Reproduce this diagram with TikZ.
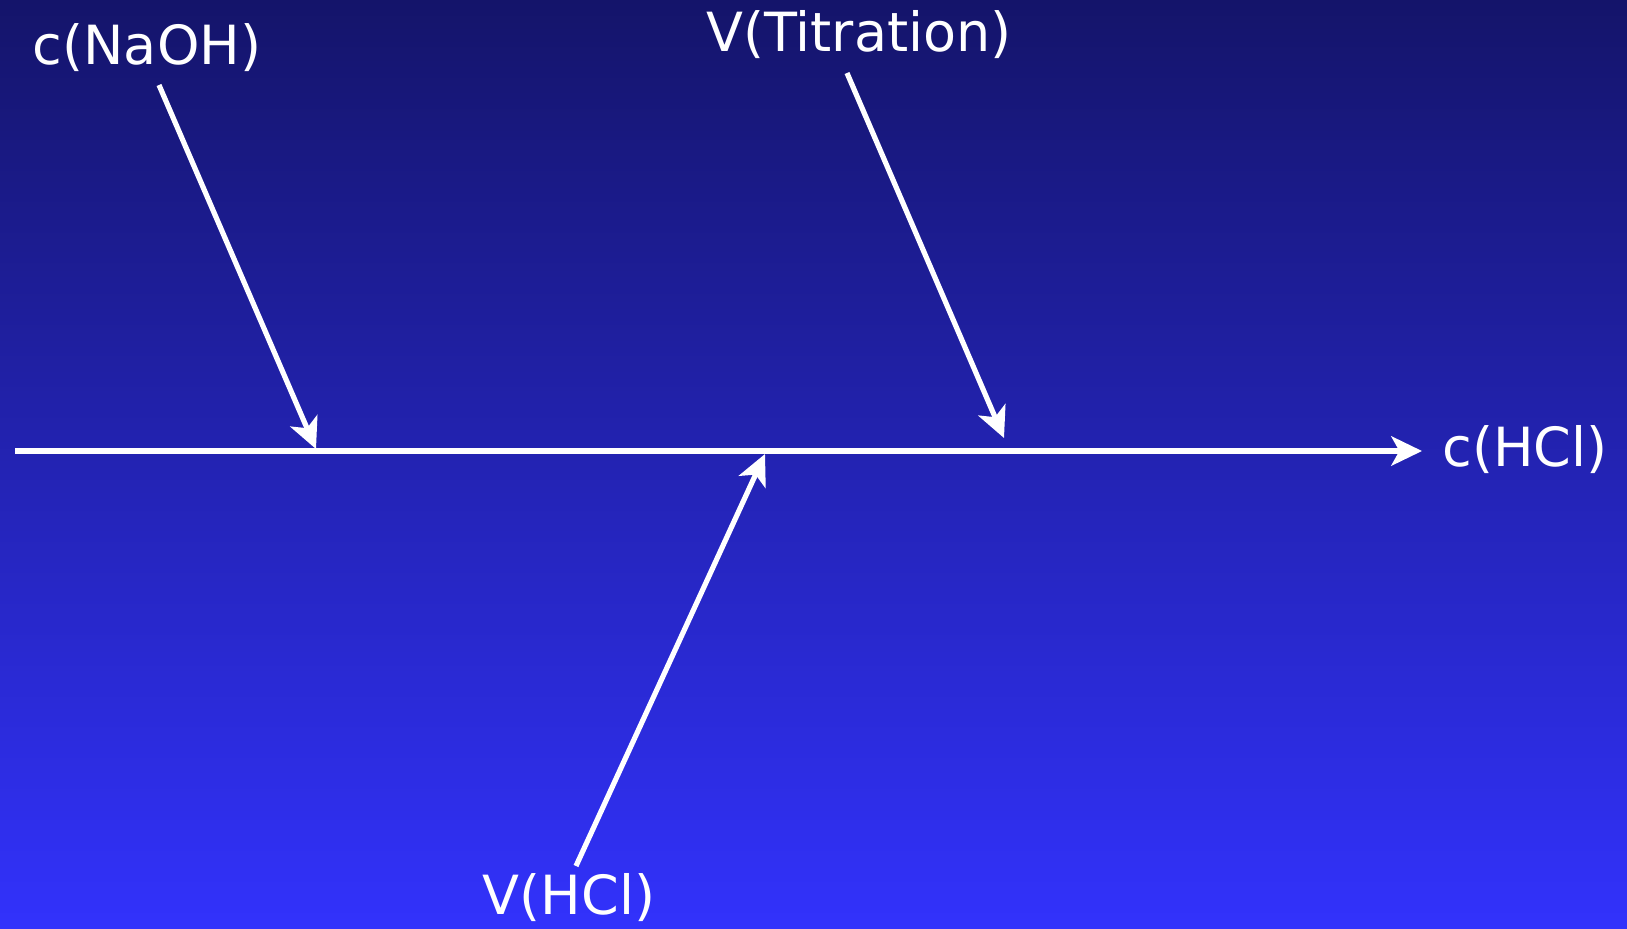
\documentclass[tikz,border=0pt]{standalone}
\usepackage{fontspec}
\setmainfont{DejaVu Sans}
\usetikzlibrary{arrows.meta}
\definecolor{bgtop}{RGB}{20,20,106}
\definecolor{bgbot}{RGB}{50,50,252}

\begin{document}
\begin{tikzpicture}[
                x=0.75pt, y=-0.75pt,
                >={Stealth[length=23pt, width=22pt, inset=6pt]},
                lbl/.style={text=white, font=\fontsize{40.5}{45}\selectfont, inner sep=0pt},
                arr/.style={->, draw=white, line width=3.9pt},
            ]
            \shade[top color=bgtop, bottom color=bgbot] (0,0) rectangle (1627,928);
            \node[lbl] (naoh) at (147,48) {c(NaOH)};
            \node[lbl] (titr) at (859,35) {V(Titration)};
            \node[lbl] (hclv) at (569,898) {V(HCl)};
            \node[lbl] (hclc) at (1525,450) {c(HCl)};
            \coordinate (axL) at (15,451);
            \coordinate (axR) at (1422,451);
            \coordinate (sA) at (159,85);
            \coordinate (tA) at (316,449);
            \coordinate (sB) at (847,73);
            \coordinate (tB) at (1004,438);
            \coordinate (sC) at (576,866);
            \coordinate (tC) at (765,454);
            \draw[arr] (axL) -- (axR);
            \draw[arr] (sA) -- (tA);
            \draw[arr] (sB) -- (tB);
            \draw[arr] (sC) -- (tC);

        \end{tikzpicture}
\end{document}
